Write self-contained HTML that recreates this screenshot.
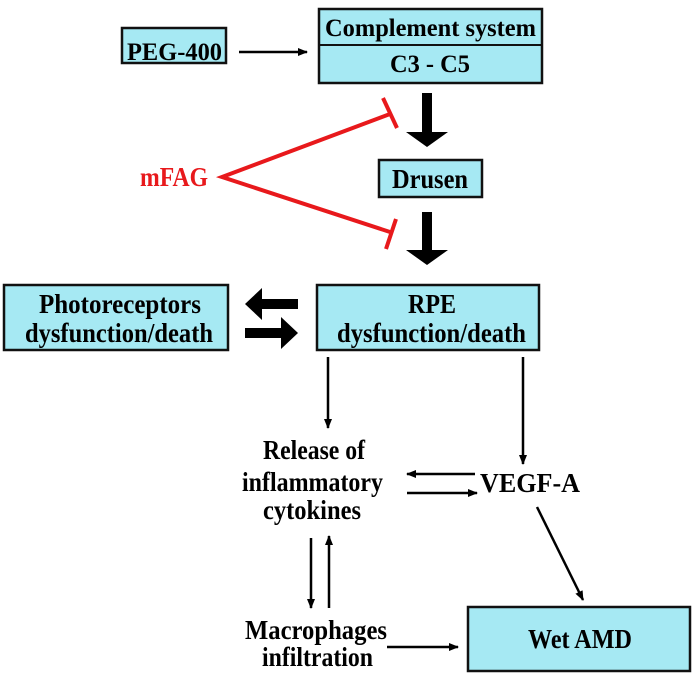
<!DOCTYPE html>
<html><head><meta charset="utf-8"><style>
html,body{margin:0;padding:0;background:#fff;}
svg{display:block;}
text{font-family:"Liberation Serif",serif;font-weight:bold;}
</style></head><body>
<svg width="697" height="680" viewBox="0 0 697 680" xmlns="http://www.w3.org/2000/svg">
<defs>
<marker id="ah" markerWidth="10" markerHeight="8" refX="9" refY="4" orient="auto" markerUnits="userSpaceOnUse">
<path d="M0,0 L10,4 L0,8 z" fill="#000"/>
</marker>
</defs>
<g fill="#a6e9f3" stroke="#111" stroke-width="2.5">
<rect x="122" y="28" width="104" height="35"/>
<rect x="319" y="9" width="223" height="74"/>
<rect x="379" y="160" width="103" height="37"/>
<rect x="4" y="285" width="224" height="65"/>
<rect x="317" y="285" width="222" height="65"/>
<rect x="468" y="607" width="222" height="64"/>
</g>
<line x1="319" y1="45" x2="542" y2="45" stroke="#111" stroke-width="2"/>
<g font-size="27" fill="#000">
<text x="127" y="60" font-size="25" textLength="95" lengthAdjust="spacingAndGlyphs">PEG-400</text>
<text x="325" y="36" font-size="25" textLength="211" lengthAdjust="spacingAndGlyphs">Complement system</text>
<text x="390" y="72" font-size="25" textLength="80" lengthAdjust="spacingAndGlyphs">C3 - C5</text>
<text x="392" y="188" textLength="76" lengthAdjust="spacingAndGlyphs">Drusen</text>
<text x="39" y="313" textLength="162" lengthAdjust="spacingAndGlyphs">Photoreceptors</text>
<text x="25" y="342" textLength="188" lengthAdjust="spacingAndGlyphs">dysfunction/death</text>
<text x="408" y="313" textLength="48" lengthAdjust="spacingAndGlyphs">RPE</text>
<text x="337" y="342" textLength="189" lengthAdjust="spacingAndGlyphs">dysfunction/death</text>
<text x="528" y="648" textLength="104" lengthAdjust="spacingAndGlyphs">Wet AMD</text>
<text x="263" y="459" textLength="102" lengthAdjust="spacingAndGlyphs">Release of</text>
<text x="242" y="491" textLength="141" lengthAdjust="spacingAndGlyphs">inflammatory</text>
<text x="263" y="519" textLength="98" lengthAdjust="spacingAndGlyphs">cytokines</text>
<text x="480" y="492" textLength="100" lengthAdjust="spacingAndGlyphs">VEGF-A</text>
<text x="245" y="639" textLength="142" lengthAdjust="spacingAndGlyphs">Macrophages</text>
<text x="262" y="666" textLength="111" lengthAdjust="spacingAndGlyphs">infiltration</text>
<text x="140" y="186" textLength="68" lengthAdjust="spacingAndGlyphs" fill="#e8191c">mFAG</text>
</g>
<g stroke="#000" stroke-width="2.5" marker-end="url(#ah)">
<line x1="239" y1="52" x2="307" y2="52"/>
<line x1="328" y1="357" x2="328" y2="428"/>
<line x1="523" y1="357" x2="523" y2="464"/>
<line x1="475" y1="474" x2="407" y2="474"/>
<line x1="407" y1="493" x2="477" y2="493"/>
<line x1="311" y1="538" x2="311" y2="608"/>
<line x1="329" y1="608" x2="329" y2="536"/>
<line x1="387" y1="647" x2="458" y2="647"/>
<line x1="537" y1="507" x2="583" y2="600"/>
</g>
<g fill="#000">
<path d="M422,93 h10 v39 h16 l-21,15 l-21,-15 h16 z"/>
<path d="M422,212 h10 v38 h16 l-21,15 l-21,-15 h16 z"/>
<path d="M298,299 v10 h-36 v11 l-17,-16 l17,-16 v11 z"/>
<path d="M245,328 v10 h36 v11 l17,-16 l-17,-16 v11 z"/>
</g>
<g stroke="#e8191c" stroke-width="4" fill="none">
<polyline points="390,114 222,177 390,232"/>
<line x1="383" y1="98" x2="397" y2="128"/>
<line x1="396" y1="219" x2="386" y2="249"/>
</g>
</svg>
</body></html>
